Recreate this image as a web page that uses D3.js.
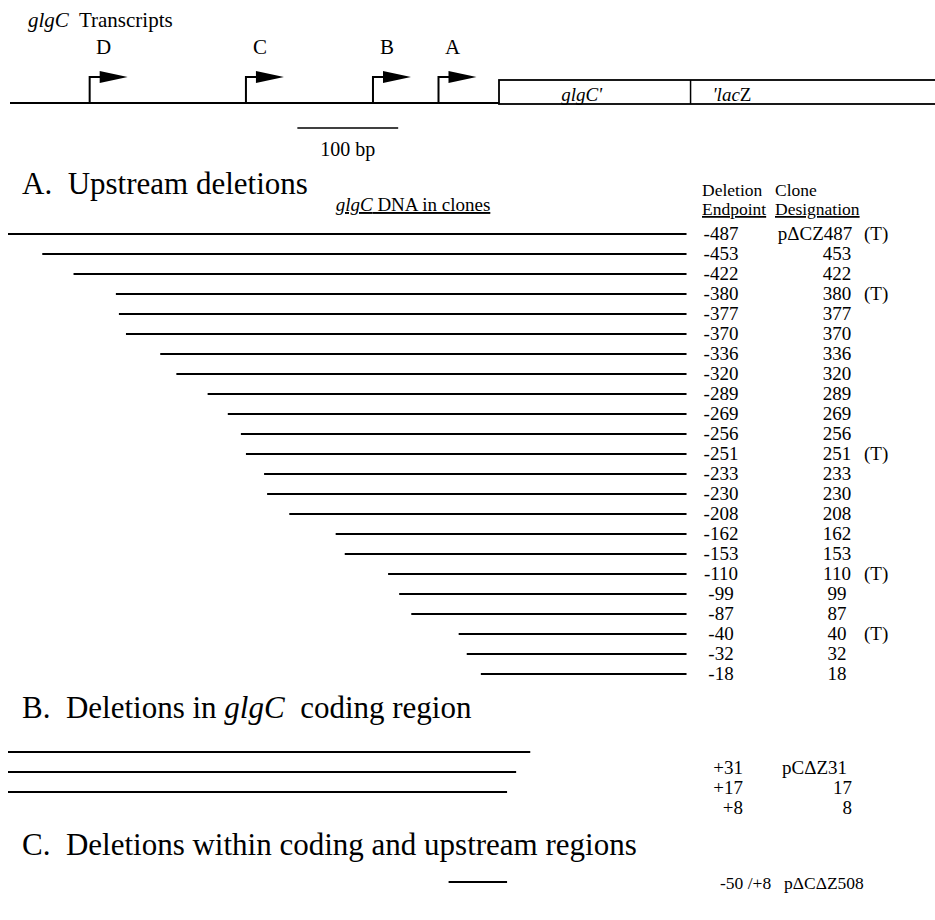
<!DOCTYPE html>
<html>
<head>
<meta charset="utf-8">
<script src="https://cdn.jsdelivr.net/npm/d3@7"></script>
<style>
  html, body { margin: 0; padding: 0; background: #fff; }
  svg { display: block; }
  text { font-family: "Liberation Serif", "Times New Roman", serif; fill: #000; }
</style>
</head>
<body>
<script>
// ---------- data ----------
const transcriptNames = ["D", "C", "B", "A"];
const transcriptStarts = [-406, -251, -125, -60];

const upstreamEndpoints = [-487, -453, -422, -380, -377, -370, -336, -320, -289, -269, -256, -251,
                           -233, -230, -208, -162, -153, -110, -99, -87, -40, -32, -18];
const upstreamClones = ["p\u0394CZ487", "453", "422", "380", "377", "370", "336", "320", "289", "269", "256", "251",
                        "233", "230", "208", "162", "153", "110", "99", "87", "40", "32", "18"];
const upstreamTranscribed = [true, false, false, true, false, false, false, false, false, false, false, true,
                             false, false, false, false, false, true, false, false, true, false, false];
const clonedDnaEnd = 186;

const codingEndpoints = [31, 17, 8];
const codingLabels = ["+31", "+17", "+8"];
const codingClones = ["pC\u0394Z31", "17", "8"];

const internalStarts = [-50];
const internalEnds = [8];
const internalLabels = ["-50 /+8"];
const internalClones = ["p\u0394C\u0394Z508"];

const fusionJunction = 190;   // glgC' / 'lacZ boundary
const scaleBarBp = 100;

// ---------- layout ----------
const W = 935, H = 920;
const svg = d3.select("body").append("svg").attr("width", W).attr("height", H);

const x = d3.scaleLinear().domain([-487, 0]).range([8, 499]);
const rowY = d3.scaleLinear().domain([0, upstreamEndpoints.length - 1]).range([234, 674]);
const codingY = d3.scaleLinear().domain([0, 2]).range([752, 792]);

// title
const t0 = svg.append("text").attr("x", 28).attr("y", 27).attr("font-size", 21).attr("xml:space", "preserve");
t0.append("tspan").attr("font-style", "italic").text("glgC");
t0.append("tspan").text("  Transcripts");

// baseline of map
const baseY = 103;
svg.append("line").attr("x1", 10).attr("x2", x(0)).attr("y1", baseY).attr("y2", baseY)
  .attr("stroke", "#000").attr("stroke-width", 2.2);

// gene box
const boxTop = 80, boxBot = 104;
svg.append("rect").attr("x", x(0)).attr("y", boxTop).attr("width", W + 20 - x(0)).attr("height", boxBot - boxTop)
  .attr("fill", "none").attr("stroke", "#000").attr("stroke-width", 1.8);
svg.append("line").attr("x1", x(fusionJunction)).attr("x2", x(fusionJunction))
  .attr("y1", boxTop).attr("y2", boxBot).attr("stroke", "#000").attr("stroke-width", 1.5);
svg.append("text").attr("x", x(82)).attr("y", 101)
  .attr("text-anchor", "middle").attr("font-size", 19).attr("font-style", "italic").text("glgC'");
const lz = svg.append("text").attr("x", x(fusionJunction) + 22).attr("y", 101).attr("font-size", 19);
lz.append("tspan").attr("font-style", "italic").text("'lac");
lz.append("tspan").text("Z");

// transcript arrows
const tr = svg.selectAll("g.tr").data(transcriptNames).enter().append("g").attr("class", "tr");
tr.append("path")
  .attr("d", (d, i) => {
    const sx = x(transcriptStarts[i]);
    return `M${sx},${baseY} V77 H${sx + 12}`;
  })
  .attr("fill", "none").attr("stroke", "#000").attr("stroke-width", 2);
tr.append("path")
  .attr("d", (d, i) => {
    const sx = x(transcriptStarts[i]) + 10;
    return `M${sx},71 L${sx + 28},77 L${sx},83 Z`;
  })
  .attr("fill", "#000");
tr.append("text")
  .attr("x", (d, i) => x(transcriptStarts[i]) + 14)
  .attr("y", 54).attr("text-anchor", "middle").attr("font-size", 21).text(d => d);

// scale bar
const sb0 = x(-200);
const sbScale = d3.scaleLinear().domain([0, scaleBarBp]).range([sb0, sb0 + (x(100) - x(0))]);
svg.append("line").attr("x1", sbScale(0)).attr("x2", sbScale(scaleBarBp)).attr("y1", 128).attr("y2", 128)
  .attr("stroke", "#000").attr("stroke-width", 1.5);
svg.append("text").attr("x", (sbScale(0) + sbScale(scaleBarBp)) / 2).attr("y", 156)
  .attr("text-anchor", "middle").attr("font-size", 20).text(scaleBarBp + " bp");

// Section A header
svg.append("text").attr("x", 22).attr("y", 194).attr("font-size", 31).attr("xml:space", "preserve")
  .text("A.  Upstream deletions");
const gd = svg.append("text").attr("x", 413).attr("y", 211).attr("text-anchor", "middle").attr("font-size", 19)
  .attr("text-decoration", "underline");
gd.append("tspan").attr("font-style", "italic").text("glgC");
gd.append("tspan").text(" DNA in clones");

svg.append("text").attr("x", 702).attr("y", 196).attr("font-size", 17.5).text("Deletion");
svg.append("text").attr("x", 775).attr("y", 196).attr("font-size", 17.5).text("Clone");
svg.append("text").attr("x", 702).attr("y", 215).attr("font-size", 17.5).attr("text-decoration", "underline").text("Endpoint");
svg.append("text").attr("x", 775).attr("y", 215).attr("font-size", 17.5).attr("text-decoration", "underline").text("Designation");

// Section A rows
const rowsA = svg.selectAll("g.rowA").data(upstreamEndpoints).enter().append("g").attr("class", "rowA");
rowsA.append("line")
  .attr("x1", d => x(d)).attr("x2", x(clonedDnaEnd))
  .attr("y1", (d, i) => rowY(i)).attr("y2", (d, i) => rowY(i))
  .attr("stroke", "#000").attr("stroke-width", 1.8);
rowsA.append("text")
  .attr("x", 721).attr("y", (d, i) => rowY(i) + 6)
  .attr("text-anchor", "middle").attr("font-size", 19).text(d => String(d));
rowsA.append("text")
  .attr("x", (d, i) => i === 0 ? 815 : 837).attr("y", (d, i) => rowY(i) + 6)
  .attr("text-anchor", "middle").attr("font-size", 19).text((d, i) => upstreamClones[i]);
rowsA.filter((d, i) => upstreamTranscribed[i])
  .append("text")
  .attr("x", 864).attr("y", d => rowY(upstreamEndpoints.indexOf(d)) + 6)
  .attr("font-size", 19).text("(T)");

// Section B
const tb = svg.append("text").attr("x", 22).attr("y", 718).attr("font-size", 31).attr("xml:space", "preserve");
tb.append("tspan").text("B.  Deletions in ");
tb.append("tspan").attr("font-style", "italic").text("glgC");
tb.append("tspan").text("  coding region");

const rowsB = svg.selectAll("g.rowB").data(codingEndpoints).enter().append("g");
rowsB.append("line")
  .attr("x1", x(-487)).attr("x2", d => x(d))
  .attr("y1", (d, i) => codingY(i)).attr("y2", (d, i) => codingY(i))
  .attr("stroke", "#000").attr("stroke-width", 1.8);
rowsB.append("text").attr("x", 743).attr("y", (d, i) => codingY(i) + 22)
  .attr("text-anchor", "end").attr("font-size", 19).text((d, i) => codingLabels[i]);
rowsB.append("text").attr("x", (d, i) => i === 0 ? 782 : 852).attr("y", (d, i) => codingY(i) + 22)
  .attr("text-anchor", (d, i) => i === 0 ? "start" : "end").attr("font-size", 19).text((d, i) => codingClones[i]);

// Section C
svg.append("text").attr("x", 22).attr("y", 855).attr("font-size", 31).attr("xml:space", "preserve")
  .text("C.  Deletions within coding and upstream regions");
const rowsC = svg.selectAll("g.rowC").data(internalStarts).enter().append("g");
rowsC.append("line")
  .attr("x1", d => x(d)).attr("x2", (d, i) => x(internalEnds[i]))
  .attr("y1", 882).attr("y2", 882).attr("stroke", "#000").attr("stroke-width", 1.8);
rowsC.append("text").attr("x", 720).attr("y", 889).attr("font-size", 17.5).attr("xml:space", "preserve")
  .text((d, i) => internalLabels[i]);
rowsC.append("text").attr("x", 784).attr("y", 889).attr("font-size", 17.5)
  .text((d, i) => internalClones[i]);
</script>
</body>
</html>
